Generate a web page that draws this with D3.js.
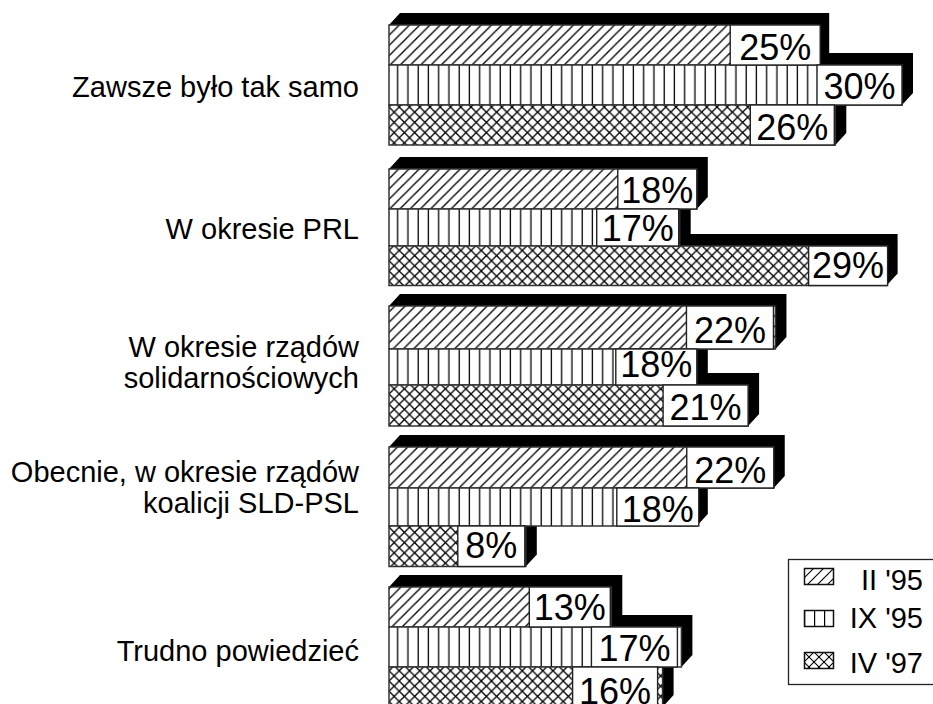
<!DOCTYPE html>
<html><head><meta charset="utf-8">
<script src="https://cdnjs.cloudflare.com/ajax/libs/d3/7.8.5/d3.min.js"></script>
<style>html,body{margin:0;padding:0;background:#fff}svg{display:block}text{font-family:"Liberation Sans",Arial,sans-serif;fill:#000}</style>
</head><body><svg id="c" width="933" height="704"></svg>
<script>
const categories = [["Zawsze było tak samo"],["W okresie PRL"],["W okresie rządów","solidarnościowych"],["Obecnie, w okresie rządów","koalicji SLD-PSL"],["Trudno powiedzieć"]];
const seriesNames = ["II '95","IX '95","IV '97"];
const barII = [25.1,18,22.6,22.5,13];
const barIX = [30,17,18,18,17.1];
const barIV = [26.1,29.1,21,8,16];
const labelII = ["25%","18%","22%","22%","13%"];
const labelIX = ["30%","17%","18%","18%","17%"];
const labelIV = ["26%","29%","21%","8%","16%"];

// layout tables, per series then per group (pixels, not data)
const boxW = [[90,79,87,87,81],[85,82,81,82,86],[84,79,85,67,85]];
const boxInset = [[-2,0,2,0,1],[0,1,0,-2,4],[1,-1,0,1,5]];
const baseDy = [[15,14,15,15,13],[13.5,13.5,10,15,14],[15,12,14,12,16.5]];
const rowShift = [[0,0,0],[3.5,3.5,.5],[0,3,-1],[.5,1.5,-.5],[0,0,0]];
const catBase = [97,239,[357,388],[482,513],661];

const bars=[barII,barIX,barIV], labels=[labelII,labelIX,labelIV], fills=["url(#pD)","url(#pV)","url(#pX)"];
const svg=d3.select("#c"), defs=svg.append("defs");
const T=10.25;
const ln=(p,a,b,c,d,w)=>p.append("line").attr("x1",a).attr("y1",b).attr("x2",c).attr("y2",d).attr("stroke","#000").attr("stroke-width",w);
function pat(id,t,ox,oy,draw){const p=defs.append("pattern").attr("id",id).attr("patternUnits","userSpaceOnUse").attr("width",t).attr("height",t).attr("x",ox).attr("y",oy);
 p.append("rect").attr("width",t).attr("height",t).attr("fill","#fff");draw(p,t);}
const diag=(p,t,w)=>{ln(p,-1,t+1,t+1,-1,w);ln(p,-1,1,1,-1,w);ln(p,t-1,t+1,t+1,t-1,w);};
const anti=(p,t,w)=>{ln(p,-1,-1,t+1,t+1,w);ln(p,t-1,-1,t+1,1,w);ln(p,-1,t-1,1,t+1,w);};
pat("pD",T,389,25,(p,t)=>diag(p,t,1.3));
pat("pV",T,389,25,(p,t)=>ln(p,8.7,0,8.7,t,1.3));
pat("pX",T,389,25,(p,t)=>{diag(p,t,1.3);anti(p,t,1.3);});
pat("lD",10,804,568,(p,t)=>diag(p,t,1.1));
pat("lV",10,804,610,(p,t)=>ln(p,0,0,0,t,2.4));
pat("lX",10,804,652,(p,t)=>{diag(p,t,1.1);anti(p,t,1.1);});

const x=d3.scaleLinear().domain([0,30]).range([389,902]);
const groupY=d3.scaleBand().domain(d3.range(5)).range([25,727.5]).padding(0);
const inner=d3.scaleBand().domain(d3.range(4)).range([0,160]);
const depthX=11, depthY=12;
const rowTop=(g,s)=>groupY(g)+inner(s)+(s<3?rowShift[g][s]:0);
const rows=[];
bars.forEach((vals,s)=>vals.forEach((v,g)=>rows.push({s,g,v,label:labels[s][g],w:boxW[s][g],inset:boxInset[s][g],dy:baseDy[s][g],top:rowTop(g,s),bot:rowTop(g,s+1)})));

svg.append("g").selectAll("path").data(rows).join("path")
 .attr("fill","#000").attr("d",d=>{const r=x(d.v),t=d.top,b=d.bot,l=x(0);
   return `M${l},${t}L${l+depthX},${t-depthY}L${r+depthX},${t-depthY}L${r+depthX},${b-depthY}L${r},${b}L${l},${b}Z`;});
svg.append("g").selectAll("rect").data(rows).join("rect")
 .attr("x",x(0)).attr("y",d=>d.top).attr("width",d=>x(d.v)-x(0)).attr("height",d=>d.bot-d.top)
 .attr("fill",d=>fills[d.s]).attr("stroke","#333").attr("stroke-width",1.5);
svg.append("g").selectAll("rect").data(rows).join("rect")
 .attr("x",d=>x(d.v)-d.inset-d.w).attr("y",d=>d.top).attr("width",d=>d.w).attr("height",d=>d.bot-d.top)
 .attr("fill","#fff").attr("stroke","#222").attr("stroke-width",1.4);
svg.append("g").selectAll("text").data(rows).join("text")
 .attr("x",d=>x(d.v)-d.inset-d.w/2).attr("y",d=>(d.top+d.bot)/2+d.dy).attr("text-anchor","middle").attr("font-size",36).text(d=>d.label);

svg.append("g").selectAll("text").data(categories).join("text")
 .attr("text-anchor","end").attr("font-size",29)
 .each(function(lines,g){const b=[].concat(catBase[g]);
  d3.select(this).selectAll("tspan").data(lines).join("tspan").attr("x",359).attr("y",(d,i)=>b[i]).text(d=>d);});

// legend
svg.append("rect").attr("x",788.5).attr("y",559.5).attr("width",170).attr("height",125).attr("fill","#fff").attr("stroke","#222").attr("stroke-width",1.3);
const swatchY=[568,610,652], legBase=[590,628,673], lf=["url(#lD)","url(#lV)","url(#lX)"];
const leg=svg.append("g").selectAll("g").data(seriesNames).join("g");
leg.append("rect").attr("x",804.5).attr("y",(d,i)=>swatchY[i]+.5).attr("width",29).attr("height",16).attr("fill",(d,i)=>lf[i]).attr("stroke","#111").attr("stroke-width",1.5);
leg.append("text").attr("x",923).attr("y",(d,i)=>legBase[i]).attr("text-anchor","end").attr("font-size",29).text(d=>d);
</script></body></html>
